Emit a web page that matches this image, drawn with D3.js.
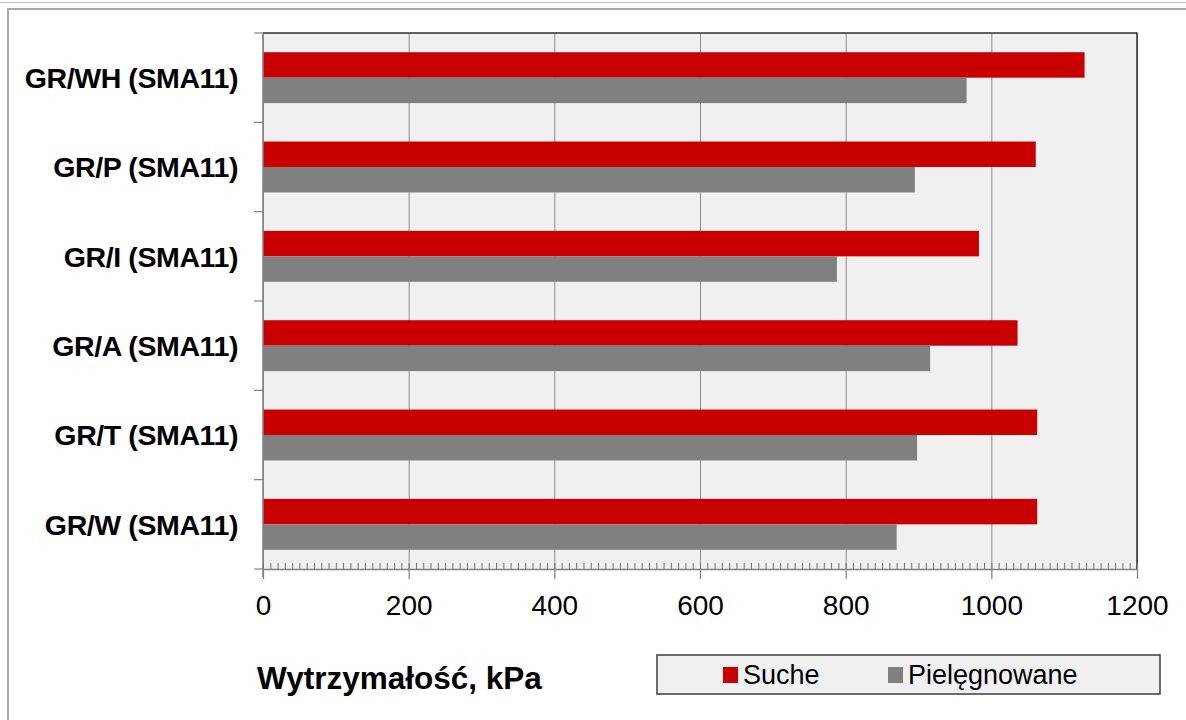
<!DOCTYPE html>
<html>
<head>
<meta charset="utf-8">
<script src="https://cdn.jsdelivr.net/npm/d3@7"></script>
<style>
  body { margin: 0; background: #fff; }
  text { font-family: "Liberation Sans", Arial, sans-serif; fill: #000; }
</style>
</head>
<body>
<div id="chart"></div>
<script>
// data
var categories = ["GR/WH (SMA11)", "GR/P (SMA11)", "GR/I (SMA11)", "GR/A (SMA11)", "GR/T (SMA11)", "GR/W (SMA11)"];
var seriesNames = ["Suche", "Pielęgnowane"];
var suche = [1128, 1061, 983, 1036, 1063, 1063];
var pielegnowane = [966, 895, 788, 916, 898, 870];
var xTicks = [0, 200, 400, 600, 800, 1000, 1200];
var colors = ["#c80000", "#808080"];

var W = 1186, H = 720;
var plot = {left: 263, top: 33, right: 1137, bottom: 569};

var svg = d3.select("#chart").append("svg")
    .attr("width", W)
    .attr("height", H);

// outer frame lines
svg.append("line").attr("x1", 0).attr("x2", W).attr("y1", 2.5).attr("y2", 2.5)
  .attr("stroke", "#c8c8c8").attr("stroke-width", 1.5);
svg.append("path")
  .attr("d", "M8," + H + "V9H" + W)
  .attr("fill", "none").attr("stroke", "#a8a8a8").attr("stroke-width", 2);

var x = d3.scaleLinear()
  .domain([0, 1200])
  .range([plot.left, plot.right]);

var y = d3.scaleBand()
  .domain(categories)
  .range([plot.top, plot.bottom])
  .paddingInner(0.43)
  .paddingOuter(0.215);

var ySub = d3.scaleBand()
  .domain(seriesNames)
  .range([0, y.bandwidth()]);

// plot background
svg.append("rect")
  .attr("x", plot.left).attr("y", plot.top)
  .attr("width", plot.right - plot.left)
  .attr("height", plot.bottom - plot.top)
  .attr("fill", "#f0f0f0");

// gridlines
svg.append("g")
  .attr("transform", "translate(0," + plot.bottom + ")")
  .call(d3.axisBottom(x).tickValues(xTicks).tickSize(-(plot.bottom - plot.top)).tickFormat(""))
  .call(function(g) { g.select(".domain").remove(); })
  .selectAll("line").attr("stroke", "#8c8c8c");

// bars
var rows = categories.map(function(c, i) {
  return [{cat: c, key: seriesNames[0], value: suche[i]},
          {cat: c, key: seriesNames[1], value: pielegnowane[i]}];
});

svg.append("g").selectAll("g")
  .data(rows)
  .enter().append("g")
    .attr("transform", function(d) { return "translate(0," + y(d[0].cat) + ")"; })
  .selectAll("rect")
  .data(function(d) { return d; })
  .enter().append("rect")
    .attr("x", x(0))
    .attr("y", function(d) { return ySub(d.key); })
    .attr("width", function(d) { return x(d.value) - x(0); })
    .attr("height", ySub.bandwidth())
    .attr("fill", function(d, i) { return colors[i]; });

// plot border top / right
svg.append("path")
  .attr("d", "M" + plot.left + "," + plot.top + "H" + plot.right + "V" + plot.bottom)
  .attr("fill", "none").attr("stroke", "#303030").attr("stroke-width", 1.5);

// left axis line + category ticks
svg.append("line")
  .attr("x1", plot.left).attr("x2", plot.left)
  .attr("y1", plot.top).attr("y2", plot.bottom + 8)
  .attr("stroke", "#808080").attr("stroke-width", 1.5);

svg.append("g").selectAll("line")
  .data(d3.range(categories.length + 1))
  .enter().append("line")
    .attr("x1", plot.left - 9).attr("x2", plot.left)
    .attr("y1", function(i) { return y.range()[0] + i * y.step(); })
    .attr("y2", function(i) { return y.range()[0] + i * y.step(); })
    .attr("stroke", "#808080").attr("stroke-width", 1.2);

// category labels
svg.append("g").selectAll("text")
  .data(categories)
  .enter().append("text")
    .attr("x", 238)
    .attr("y", function(d) { return y(d) + y.bandwidth() / 2; })
    .attr("dy", "0.36em")
    .attr("text-anchor", "end")
    .attr("font-size", 28.5)
    .attr("font-weight", "bold")
    .attr("letter-spacing", -0.4)
    .text(function(d) { return d; });

// x axis: minor ticks
svg.append("g")
  .attr("transform", "translate(0," + plot.bottom + ")")
  .call(d3.axisBottom(x).tickValues(d3.range(0, 1201, 10)).tickSize(-6).tickFormat(""))
  .call(function(g) { g.select(".domain").remove(); })
  .selectAll("line").attr("stroke", "#707070");

// x axis: major ticks + labels
var xAxis = svg.append("g")
  .attr("transform", "translate(0," + plot.bottom + ")")
  .call(d3.axisBottom(x).tickValues(xTicks).tickSize(10).tickPadding(16).tickSizeOuter(0)
    .tickFormat(d3.format("d")));
xAxis.select(".domain").attr("stroke", "#808080").attr("stroke-width", 1.5);
xAxis.selectAll("line").attr("stroke", "#808080").attr("stroke-width", 1.2);
xAxis.selectAll("text")
  .attr("font-size", 28)
  .attr("font-family", "Liberation Sans, Arial, sans-serif")
  .attr("fill", "#000");

// axis title
svg.append("text")
  .attr("x", 257).attr("y", 689)
  .attr("font-size", 31.5)
  .attr("font-weight", "bold")
  .text("Wytrzymałość, kPa");

// legend
var legend = svg.append("g");
legend.append("rect")
  .attr("x", 657).attr("y", 655)
  .attr("width", 503).attr("height", 39)
  .attr("fill", "#f0f0f0")
  .attr("stroke", "#3c3c3c").attr("stroke-width", 1.5);

var legendX = [723, 888];
seriesNames.forEach(function(name, i) {
  legend.append("rect")
    .attr("x", legendX[i]).attr("y", 667)
    .attr("width", 15).attr("height", 16)
    .attr("fill", colors[i]);
  legend.append("text")
    .attr("x", legendX[i] + 20).attr("y", 684)
    .attr("font-size", 27)
    .text(name);
});
</script>
</body>
</html>
